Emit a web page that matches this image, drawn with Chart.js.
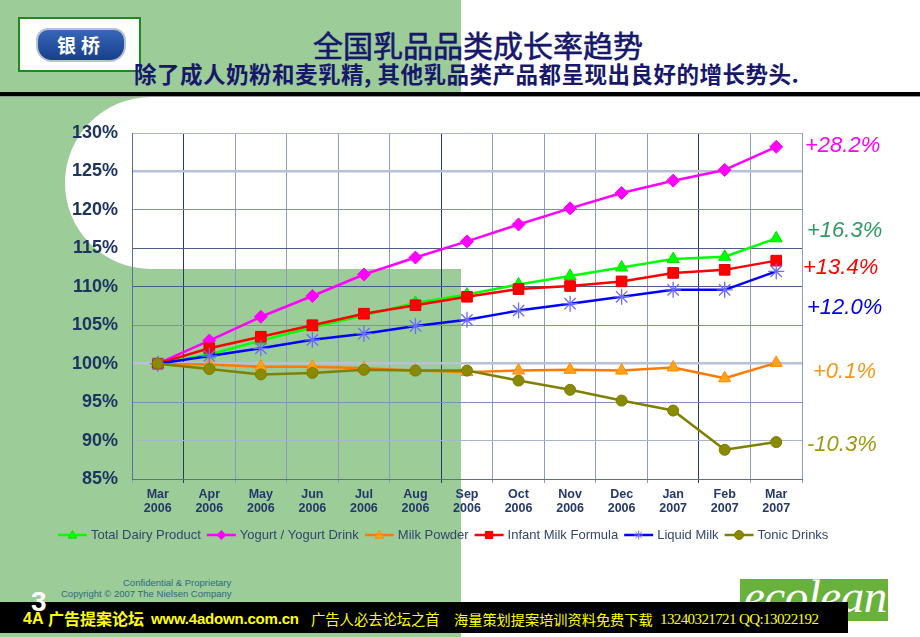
<!DOCTYPE html>
<html>
<head>
<meta charset="utf-8">
<script src="https://cdn.jsdelivr.net/npm/chart.js@4.4.1/dist/chart.umd.min.js"></script>
<style>
  html,body{margin:0;padding:0;}
  body{width:920px;height:637px;position:relative;overflow:hidden;background:#ffffff;font-family:"Liberation Sans",Arial,sans-serif;}
  .abs{position:absolute;}
  #greenL{left:0;top:0;width:461px;height:637px;background:#9ccc98;}
  #whiteShape{left:65px;top:97px;width:855px;height:172px;background:#fff;border-radius:86px 0 0 86px;}
  #rule{left:0;top:92px;width:920px;height:4px;background:#000;}
  #rule2{left:0;top:96px;width:920px;height:1px;background:#9a9a9a;}
  #logo{left:18px;top:17px;width:119px;height:51px;border:2px solid #1d8a1d;background:#fff;}
  #badge{left:16px;top:9px;width:86px;height:30px;border-radius:12px 12px 16px 16px;background:linear-gradient(#3767b8,#173f8c);border:2px solid #b9c0cf;color:#fff;font:bold 19px "Noto Sans CJK SC",sans-serif;line-height:30px;text-align:center;letter-spacing:5px;}
  #title{left:228px;top:29px;width:500px;text-align:center;font:30px/1 "Noto Sans CJK SC",sans-serif;color:#17176b;white-space:nowrap;-webkit-text-stroke:0.6px #17176b;}
  #subtitle{left:134px;top:62px;font:bold 22.5px/1 "Noto Sans CJK SC",sans-serif;color:#17176b;white-space:nowrap;letter-spacing:0.5px;}
  #chartWrap{left:0;top:120px;width:920px;height:440px;}
  .ann{position:absolute;font-style:italic;font-size:22px;line-height:1;white-space:nowrap;}
  .foot{position:absolute;font-size:9.5px;color:#2d6a7e;white-space:nowrap;line-height:1;}
  #banner{left:0;top:602px;width:848px;height:31px;background:#000;}
  .bt{position:absolute;color:#ffff00;white-space:nowrap;line-height:1;font-weight:bold;}
  #eco{left:740px;top:579px;width:148px;height:42px;background:#68b23c;overflow:hidden;}
  #ecoText{position:absolute;left:4px;top:-6px;font:italic 47px/1 "Liberation Serif",serif;color:#fff;letter-spacing:-0.5px;}
  #pgnum{left:31px;top:588px;font:bold 28px/1 "Liberation Sans",Arial,sans-serif;color:#fff;}
</style>
</head>
<body>
<div class="abs" id="greenL"></div>
<div class="abs" id="whiteShape"></div>
<div class="abs" id="rule"></div>
<div class="abs" id="rule2"></div>
<div class="abs" id="logo"><div class="abs" id="badge">银桥</div></div>
<div class="abs" id="title">全国乳品品类成长率趋势</div>
<div class="abs" id="subtitle">除了成人奶粉和麦乳精, 其他乳品类产品都呈现出良好的增长势头.</div>

<div class="abs" id="chartWrap"><canvas id="c" width="920" height="440"></canvas></div>

<div class="ann" style="left:805px;top:134px;color:#ff00ff;">+28.2%</div>
<div class="ann" style="left:807px;top:219px;color:#2f9a62;">+16.3%</div>
<div class="ann" style="left:803px;top:256px;color:#ff0000;">+13.4%</div>
<div class="ann" style="left:807px;top:296px;color:#0000e6;">+12.0%</div>
<div class="ann" style="left:813px;top:360px;color:#f09a1a;">+0.1%</div>
<div class="ann" style="left:807px;top:433px;color:#9e9a12;">-10.3%</div>

<div class="foot" style="left:123px;top:578px;">Confidential &amp; Proprietary</div>
<div class="foot" style="left:61px;top:589px;">Copyright © 2007 The Nielsen Company</div>

<div class="abs" id="eco"><div id="ecoText">ecolean</div></div>
<div class="abs" id="banner"></div>
<div class="abs" id="pgnum">3</div>
<div class="bt" style="left:23px;top:611px;font-size:16px;font-family:'Liberation Sans',Arial,sans-serif;">4A</div>
<div class="bt" style="left:48px;top:610px;font-size:16px;font-family:'Noto Sans CJK SC',sans-serif;">广告提案论坛</div>
<div class="bt" style="left:151px;top:611px;font-size:15px;font-family:'Liberation Sans',Arial,sans-serif;letter-spacing:-0.2px;">www.4adown.com.cn</div>
<div class="bt" style="left:311px;top:612px;font-size:14.3px;font-weight:normal;font-family:'Noto Sans CJK SC',sans-serif;">广告人必去论坛之首</div>
<div class="bt" style="left:454px;top:612px;font-size:14.2px;font-weight:normal;font-family:'Noto Sans CJK SC',sans-serif;">海量策划提案培训资料免费下载</div>
<div class="bt" style="left:660px;top:612px;font-size:15px;font-weight:normal;font-family:'Liberation Serif',serif;letter-spacing:-0.6px;">13240321721 QQ:13022192</div>

<script>
// ---- data ----
const months = ['Mar','Apr','May','Jun','Jul','Aug','Sep','Oct','Nov','Dec','Jan','Feb','Mar'];
const years  = ['2006','2006','2006','2006','2006','2006','2006','2006','2006','2006','2007','2007','2007'];
const totalDairy   = [100, 101.2, 103.0, 104.7, 106.3, 107.9, 109.0, 110.3, 111.4, 112.5, 113.6, 113.9, 116.3];
const yogurt       = [100, 103.0, 106.1, 108.8, 111.6, 113.8, 115.9, 118.1, 120.2, 122.2, 123.8, 125.2, 128.2];
const milkPowder   = [100, 99.9, 99.6, 99.6, 99.4, 99.1, 98.9, 99.1, 99.2, 99.1, 99.5, 98.1, 100.1];
const infantMilk   = [100, 102.0, 103.5, 105.0, 106.5, 107.6, 108.7, 109.7, 110.1, 110.7, 111.8, 112.2, 113.4];
const liquidMilk   = [100, 101.0, 102.0, 103.1, 103.9, 104.9, 105.7, 106.9, 107.8, 108.7, 109.6, 109.6, 112.0];
const tonicDrinks  = [100, 99.3, 98.6, 98.8, 99.2, 99.1, 99.1, 97.8, 96.6, 95.2, 93.9, 88.8, 89.8];
const seriesNames  = ['Total Dairy Product','Yogurt / Yogurt Drink','Milk Powder','Infant Milk Formula','Liquid Milk','Tonic Drinks'];
const yTickValues  = [85, 90, 95, 100, 105, 110, 115, 120, 125, 130];

const labels = months.map((m, i) => [m, years[i]]);

const styles = [
  {line:'#00ff00', fill:'#00ff00', edge:'#00e000', shape:'triangle', r:7, order:5},
  {line:'#ff00ff', fill:'#ff00ff', edge:'#ff00ff', shape:'rectRot', r:6.5, order:4},
  {line:'#ff7a00', fill:'#ffa31a', edge:'#ff8c00', shape:'triangle', r:7, order:3},
  {line:'#ff0000', fill:'#ff0000', edge:'#e00000', shape:'rect', r:7.5, order:2},
  {line:'#0000ff', fill:'rgba(0,0,0,0)', edge:'#6b6bff', shape:'star', r:8, order:1},
  {line:'#808000', fill:'#8a8a00', edge:'#7a7a00', shape:'circle', r:5.5, order:0}
];
const values = [totalDairy, yogurt, milkPowder, infantMilk, liquidMilk, tonicDrinks];

const datasets = values.map((v, i) => ({
  label: seriesNames[i],
  data: v,
  borderColor: styles[i].line,
  backgroundColor: styles[i].fill,
  borderWidth: 2.5,
  pointStyle: styles[i].shape,
  pointRadius: styles[i].r,
  pointBackgroundColor: styles[i].fill,
  pointBorderColor: styles[i].edge,
  pointBorderWidth: i === 4 ? 1.3 : 1,
  tension: 0,
  order: styles[i].order,
  clip: false
}));

function drawMarker(ctx, shape, x, y, r, fill, edge) {
  ctx.save();
  ctx.fillStyle = fill; ctx.strokeStyle = edge; ctx.lineWidth = 1;
  ctx.beginPath();
  if (shape === 'triangle') {
    ctx.moveTo(x, y - r); ctx.lineTo(x + r * 0.95, y + r * 0.7); ctx.lineTo(x - r * 0.95, y + r * 0.7); ctx.closePath();
    ctx.fill(); ctx.stroke();
  } else if (shape === 'rectRot') {
    ctx.moveTo(x, y - r); ctx.lineTo(x + r, y); ctx.lineTo(x, y + r); ctx.lineTo(x - r, y); ctx.closePath();
    ctx.fill(); ctx.stroke();
  } else if (shape === 'rect') {
    ctx.rect(x - r * 0.8, y - r * 0.8, r * 1.6, r * 1.6); ctx.fill(); ctx.stroke();
  } else if (shape === 'star') {
    for (let k = 0; k < 4; k++) {
      const a = k * Math.PI / 4;
      ctx.moveTo(x - Math.cos(a) * r, y - Math.sin(a) * r);
      ctx.lineTo(x + Math.cos(a) * r, y + Math.sin(a) * r);
    }
    ctx.stroke();
  } else {
    ctx.arc(x, y, r, 0, Math.PI * 2); ctx.fill(); ctx.stroke();
  }
  ctx.restore();
}

const legendPlugin = {
  id: 'lineLegend',
  afterDraw(chart) {
    const ctx = chart.ctx;
    ctx.save();
    ctx.font = '13px "Liberation Sans", Arial, sans-serif';
    ctx.textBaseline = 'middle';
    ctx.textAlign = 'left';
    let x = 58; const y = 415;
    seriesNames.forEach((name, i) => {
      const s = styles[i];
      ctx.strokeStyle = s.line; ctx.lineWidth = 2.5;
      ctx.beginPath(); ctx.moveTo(x, y); ctx.lineTo(x + 29, y); ctx.stroke();
      drawMarker(ctx, s.shape, x + 14.5, y, 4.5, s.fill, s.edge);
      ctx.fillStyle = '#34466c';
      ctx.fillText(name, x + 33, y);
      x += 33 + ctx.measureText(name).width + 6;
    });
    ctx.restore();
  }
};

function yGridColor(v) {
  if (v === 125 || v === 100) return '#b8c2d6';
  if (v === 115 || v === 110) return '#4a5d8a';
  if (v === 130 || v === 90) return '#a8b3cc';
  return '#7f8fb7';
}

new Chart(document.getElementById('c'), {
  type: 'line',
  data: { labels, datasets },
  options: {
    responsive: false,
    animation: false,
    devicePixelRatio: 1,
    layout: { autoPadding: false, padding: { left: 0, top: 13, right: 118, bottom: 41 } },
    plugins: { legend: { display: false }, tooltip: { enabled: false } },
    elements: { line: { borderJoinStyle: 'round' } },
    scales: {
      x: {
        type: 'category',
        offset: true,
        grid: {
          offset: true,
          drawTicks: true,
          tickLength: 4,
          color: (ctx) => ([1, 6, 11].includes(ctx.index) ? '#263a66' : '#8c9bc2'),
          lineWidth: 1
        },
        border: { display: true, color: '#5d6d93', width: 1 },
        ticks: {
          padding: 4,
          maxRotation: 0,
          autoSkip: false,
          color: '#24386a',
          font: { size: 12.5, weight: 'bold', family: '"Liberation Sans", Arial, sans-serif', lineHeight: 1.15 }
        },
        afterFit: (s) => { s.height = 40; s.paddingLeft = 0; s.paddingRight = 0; }
      },
      y: {
        min: 85,
        max: 130,
        afterBuildTicks: (s) => { s.ticks = yTickValues.map(v => ({ value: v })); },
        grid: {
          drawTicks: false,
          color: (ctx) => yGridColor(ctx.tick ? ctx.tick.value : 0),
          lineWidth: (ctx) => (ctx.tick && (ctx.tick.value === 125 || ctx.tick.value === 100)) ? 2.5 : 1
        },
        border: { display: true, color: '#5d6d93', width: 1 },
        ticks: {
          padding: 14,
          color: '#1d3461',
          font: { size: 18, weight: 'bold', family: '"Liberation Sans", Arial, sans-serif' },
          callback: (v) => v + '%'
        },
        afterFit: (s) => { s.width = 132; s.paddingTop = 0; s.paddingBottom = 0; }
      }
    }
  },
  plugins: [legendPlugin]
});
</script>
</body>
</html>
